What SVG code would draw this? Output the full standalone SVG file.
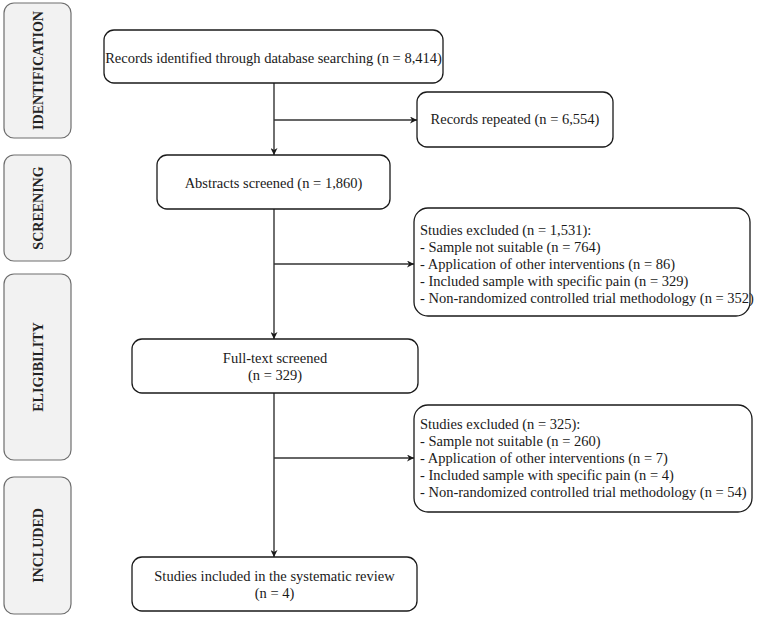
<svg xmlns="http://www.w3.org/2000/svg" width="760" height="619" viewBox="0 0 760 619">
<defs>
<style>
.bg{fill:#ffffff}
.phase rect{fill:#f2f2f2;stroke:#6e6e6e;stroke-width:1.2}
.phase text{font-family:'Liberation Serif','Times New Roman','DejaVu Serif',serif;font-weight:bold;font-size:14px;fill:#222;text-anchor:middle;dominant-baseline:central}
.node rect{fill:#ffffff;stroke:#1a1a1a;stroke-width:1.3}
.node text{font-family:'Liberation Serif','Times New Roman','DejaVu Serif',serif;font-size:14.5px;fill:#1a1a1a}
.c{text-anchor:middle}
.conn line{stroke:#333;stroke-width:1.4;fill:none}
</style>
<marker id="ah" viewBox="0 0 10 10" refX="10" refY="5" markerWidth="7" markerHeight="7" orient="auto" markerUnits="userSpaceOnUse">
<path d="M0,0 L10,5 L0,10 L3,5 z" fill="#1a1a1a"/>
</marker>
</defs>
<rect class="bg" x="0" y="0" width="760" height="619"/>

<g id="phase-identification" class="phase"><rect x="4" y="3" width="67" height="135" rx="10"/><text transform="translate(38,70.5) rotate(-90)">IDENTIFICATION</text></g>
<g id="phase-screening" class="phase"><rect x="4" y="155" width="67" height="106" rx="10"/><text transform="translate(38,208) rotate(-90)">SCREENING</text></g>
<g id="phase-eligibility" class="phase"><rect x="4" y="274" width="67" height="186" rx="10"/><text transform="translate(38,367) rotate(-90)">ELIGIBILITY</text></g>
<g id="phase-included" class="phase"><rect x="4" y="477" width="67" height="137" rx="10"/><text transform="translate(38,545.5) rotate(-90)">INCLUDED</text></g>

<g id="connectors" class="conn">
<line x1="274" y1="83" x2="274" y2="155" marker-end="url(#ah)"/>
<line x1="274" y1="120" x2="417" y2="120" marker-end="url(#ah)"/>
<line x1="274" y1="209" x2="274" y2="339" marker-end="url(#ah)"/>
<line x1="274" y1="264" x2="414" y2="264" marker-end="url(#ah)"/>
<line x1="274" y1="393" x2="274" y2="557" marker-end="url(#ah)"/>
<line x1="274" y1="458" x2="414" y2="458" marker-end="url(#ah)"/>
</g>

<g id="records-identified" class="node"><rect x="104" y="30" width="339" height="53" rx="10"/><text class="c" x="273.5" y="63">Records identified through database searching (n = 8,414)</text></g>
<g id="records-repeated" class="node"><rect x="417" y="92" width="196" height="55" rx="10"/><text class="c" x="515" y="124">Records repeated (n = 6,554)</text></g>
<g id="abstracts-screened" class="node"><rect x="157" y="155" width="233" height="54" rx="10"/><text class="c" x="273.5" y="188">Abstracts screened (n = 1,860)</text></g>
<g id="excluded-1" class="node"><rect x="414" y="208" width="336" height="108" rx="14"/>
<text x="420" y="235">Studies excluded (n = 1,531):</text>
<text x="420" y="252">- Sample not suitable (n = 764)</text>
<text x="420" y="269">- Application of other interventions (n = 86)</text>
<text x="420" y="286">- Included sample with specific pain (n = 329)</text>
<text x="420" y="303">- Non-randomized controlled trial methodology (n = 352)</text></g>
<g id="fulltext-screened" class="node"><rect x="132" y="339" width="286" height="54" rx="10"/><text class="c" x="275" y="363">Full-text screened</text><text class="c" x="275" y="380">(n = 329)</text></g>
<g id="excluded-2" class="node"><rect x="414" y="405" width="338" height="107" rx="14"/>
<text x="420" y="429">Studies excluded (n = 325):</text>
<text x="420" y="446">- Sample not suitable (n = 260)</text>
<text x="420" y="463">- Application of other interventions (n = 7)</text>
<text x="420" y="480">- Included sample with specific pain (n = 4)</text>
<text x="420" y="497">- Non-randomized controlled trial methodology (n = 54)</text></g>
<g id="studies-included" class="node"><rect x="132" y="557" width="285" height="54" rx="10"/><text class="c" x="274.5" y="581">Studies included in the systematic review</text><text class="c" x="274.5" y="598">(n = 4)</text></g>
</svg>
